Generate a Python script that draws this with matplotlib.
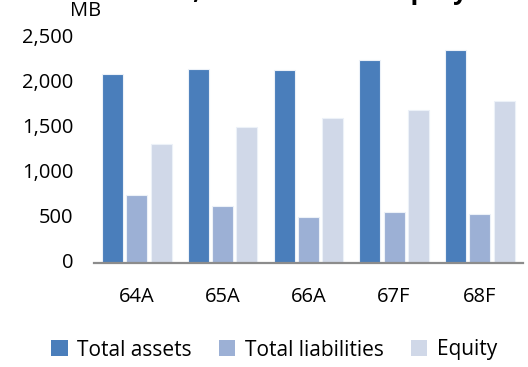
import matplotlib
matplotlib.use("Agg")
import matplotlib.pyplot as plt
import numpy as np

categories = ["64A", "65A", "66A", "67F", "68F"]
total_assets = [2095, 2155, 2140, 2260, 2365]
total_liabilities = [755, 630, 510, 570, 545]
equity = [1320, 1510, 1610, 1700, 1800]
series_names = ["Total assets", "Total liabilities", "Equity"]
colors = ["#4A7EBB", "#9CB0D5", "#D0D8E8"]
yticks = [0, 500, 1000, 1500, 2000, 2500]
ytick_labels = ["0", "500", "1,000", "1,500", "2,000", "2,500"]

plt.rcParams['font.family'] = ['Open Sans', 'DejaVu Sans']

W, H = 528, 367
fig = plt.figure(figsize=(W / 100, H / 100), dpi=100)
ax = fig.add_axes([94 / W, 1 - 263 / H, (522.7 - 94) / W, (263 - 38) / H])

x = np.arange(len(categories))
slot = 0.283
bw = 0.245
for i, (vals, name, c) in enumerate(zip([total_assets, total_liabilities, equity], series_names, colors)):
    ax.bar(x + (i - 1) * slot, vals, width=bw, color=c, edgecolor="#ECF1F8",
           linewidth=0.8, label=name, zorder=2)

ax.set_xlim(-0.5, len(categories) - 0.5)
ax.set_ylim(0, 2500)
ax.set_yticks(yticks)
ax.set_yticklabels(ytick_labels)
ax.set_xticks(x)
ax.set_xticklabels(categories)
for s in ["top", "right", "left"]:
    ax.spines[s].set_visible(False)
ax.spines["bottom"].set_color("#8C8C8C")
ax.spines["bottom"].set_linewidth(1.6)
ax.tick_params(axis="both", length=0, labelsize=14.5, colors="black")
ax.tick_params(axis="y", pad=15)
ax.tick_params(axis="x", pad=17)
for lab in ax.get_yticklabels():
    lab.set_verticalalignment("center")

fig.text(86 / W, 1 - 11 / H, "MB", fontsize=14.5, ha="center", va="center")
fig.text(290 / W, 1 + 1 / H, "Assets, Liabilities and Equity", fontsize=18,
         fontweight="bold", ha="center", va="baseline")

leg = fig.legend(loc="center", bbox_to_anchor=(274 / W, 1 - 350 / H), ncol=3,
                 frameon=False, fontsize=15, handlelength=0.8, handleheight=0.8,
                 handletextpad=0.45, columnspacing=1.3, borderpad=0)
for h in leg.legend_handles:
    h.set_edgecolor("none")

fig.savefig("out.png", dpi=100)
